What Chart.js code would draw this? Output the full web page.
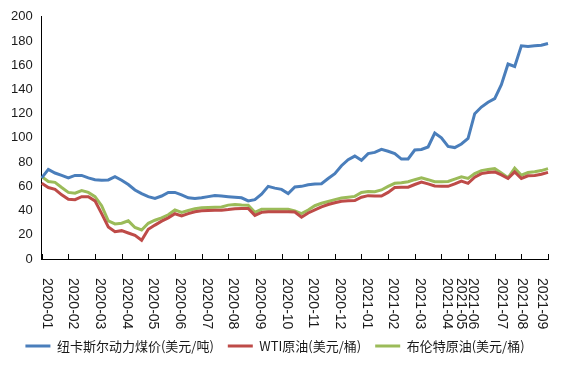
<!DOCTYPE html>
<html>
<head>
<meta charset="utf-8">
<script src="https://cdn.jsdelivr.net/npm/chart.js@4/dist/chart.umd.min.js"></script>
<style>
  html, body { margin: 0; padding: 0; background: #fff; }
  #wrap { width: 572px; height: 365px; position: relative; }
</style>
</head>
<body>
<div id="wrap"><canvas id="priceChart"></canvas></div>
<script>
// --- Data (weekly points, 2020-01 .. 2021-09) ---
const coal = [67, 74, 71, 69, 67, 69, 69, 67, 65.5, 65, 65.3, 68, 65, 61.5, 57, 54, 51.5, 50, 52, 55,
  55, 53, 50.5, 50, 50.5, 51.5, 52.5, 52, 51.5, 51, 50.5, 48, 49, 53.5, 60, 58.5, 57.5, 54, 59.5, 60,
  61.3, 62, 62.2, 66.5, 70.5, 77, 82, 85, 81.5, 87, 88, 90.5, 89, 87, 82.5, 82.6, 90, 90.4, 92.5, 104,
  100, 93, 92, 95, 99.5, 120, 125.5, 129.5, 132.5, 144, 161, 159, 176, 175.5, 176, 176.5, 178];

const wti = [62.5, 59, 57.5, 53, 49.3, 49, 51.5, 51.5, 48, 37.5, 26.5, 22.5, 23.4, 21.5, 19.5, 15.5, 24.5, 28, 31.3, 34,
  37.4, 35.6, 37.5, 39, 39.8, 40, 40.2, 40.3, 40.8, 41.5, 41.8, 41.8, 36, 38.5, 39, 39, 39, 39, 38.8, 34.5,
  38, 40.5, 43, 45, 46.5, 47.7, 48, 48.2, 51, 52.3, 52, 52, 55, 59, 59.3, 59.3, 61.5, 63.5, 62, 60.3,
  60, 60, 62, 64.4, 62.5, 67.5, 70.5, 71.5, 71.9, 69.5, 66.5, 71.9, 66.5, 68.7, 69, 70, 71.5];

const brent = [68, 64, 63.3, 59, 55, 54.4, 56.5, 55, 51.5, 44, 31.5, 29, 29.5, 31.5, 26, 24, 29.5, 32, 34, 36.5,
  40.5, 38.5, 40, 41.5, 42.3, 42.5, 42.8, 43, 44.5, 45, 44.5, 44.4, 38.5, 41, 41, 41, 41, 41, 39.6, 37.5,
  40.5, 44, 46, 47.5, 49, 50.3, 51, 51.7, 55, 55.8, 55.5, 57, 60, 62.5, 63, 63.8, 65.5, 67, 65.5, 63.8,
  63.8, 64, 66, 67.9, 66.5, 70.5, 73, 74, 74.6, 71, 67.1, 75, 69.2, 71.4, 72, 73, 74.6];

const weeks = coal.map((_, i) => 'W' + (i + 1));

// month labels under the axis and the week (category) each one sits on
const tickLabels = ['2020-01', '2020-02', '2020-03', '2020-04', '2020-05', '2020-06', '2020-07',
  '2020-08', '2020-09', '2020-10', '2020-11', '2020-12', '2021-01', '2021-02', '2021-03', '2021-04',
  '2021-05', '2021-06', '2021-07', '2021-08', '2021-09'];
const tickLabelAt = [0, 4, 8, 12, 16, 20, 24, 28, 32, 36, 40, 44, 48, 52, 56, 60, 62.1, 64, 68.3, 71.3, 74.3];

const seriesNames = ['纽卡斯尔动力煤价(美元/吨)', 'WTI原油(美元/桶)', '布伦特原油(美元/桶)'];
const seriesColors = ['#4a7ebb', '#be4b48', '#9bbb59'];

// --- Inward tick marks + vertical (top-to-bottom) month labels ---
const xAxisLabels = {
    id: 'xAxisLabels',
    afterDraw(chart) {
        const { ctx, chartArea: { bottom }, scales: { x } } = chart;
        ctx.save();
        ctx.strokeStyle = '#000';
        ctx.lineWidth = 1;
        ctx.beginPath();
        for (let i = 0; i < weeks.length; i += 4) {
            const px = Math.round(x.getPixelForValue(i)) + 0.5;
            ctx.moveTo(px, bottom);
            ctx.lineTo(px, bottom - 5);
        }
        ctx.stroke();

        ctx.fillStyle = '#1a1a1a';
        ctx.font = '14px "Liberation Sans", Arial, sans-serif';
        ctx.textAlign = 'left';
        ctx.textBaseline = 'middle';
        tickLabels.forEach((t, k) => {
            const px = x.getPixelForValue(tickLabelAt[k]) + 5;
            ctx.save();
            ctx.translate(px, bottom + 19);
            ctx.rotate(Math.PI / 2);
            ctx.fillText(t, 0, 0);
            ctx.restore();
        });
        ctx.restore();
    }
};

const makeSet = (label, data, color) => ({
    label: label,
    data: data,
    borderColor: color,
    backgroundColor: color,
    borderWidth: 3,
    pointRadius: 0,
    tension: 0
});

const config = {
    type: 'line',
    data: {
        labels: weeks,
        datasets: [
            makeSet(seriesNames[0], coal, seriesColors[0]),
            makeSet(seriesNames[1], wti, seriesColors[1]),
            makeSet(seriesNames[2], brent, seriesColors[2])
        ]
    },
    options: {
        responsive: true,
        maintainAspectRatio: false,
        animation: false,
        layout: {
            padding: { top: 6.5, right: 24, bottom: 2.5, left: 2 }
        },
        plugins: {
            legend: {
                position: 'bottom',
                labels: {
                    boxWidth: 25,
                    boxHeight: 3,
                    padding: 14,
                    color: '#1a1a1a',
                    font: { family: '"Noto Sans CJK SC", sans-serif', size: 13 },
                    generateLabels(chart) {
                        const items = Chart.defaults.plugins.legend.labels.generateLabels(chart);
                        items.forEach(it => { it.lineWidth = 0; });
                        return items;
                    }
                }
            },
            tooltip: { enabled: false }
        },
        scales: {
            x: {
                grid: { display: false, drawTicks: false },
                border: { display: true, color: '#000', width: 1 },
                ticks: { display: false },
                afterFit(scale) { scale.height = 66.5; }
            },
            y: {
                min: 0,
                max: 200,
                grid: { display: false, drawTicks: false },
                border: { display: true, color: '#000', width: 1 },
                ticks: {
                    stepSize: 20,
                    padding: 9,
                    color: '#1a1a1a',
                    font: { family: '"Liberation Sans", Arial, sans-serif', size: 13 }
                }
            }
        }
    },
    plugins: [xAxisLabels]
};

const priceChart = new Chart(document.getElementById('priceChart'), config);
</script>
</body>
</html>
